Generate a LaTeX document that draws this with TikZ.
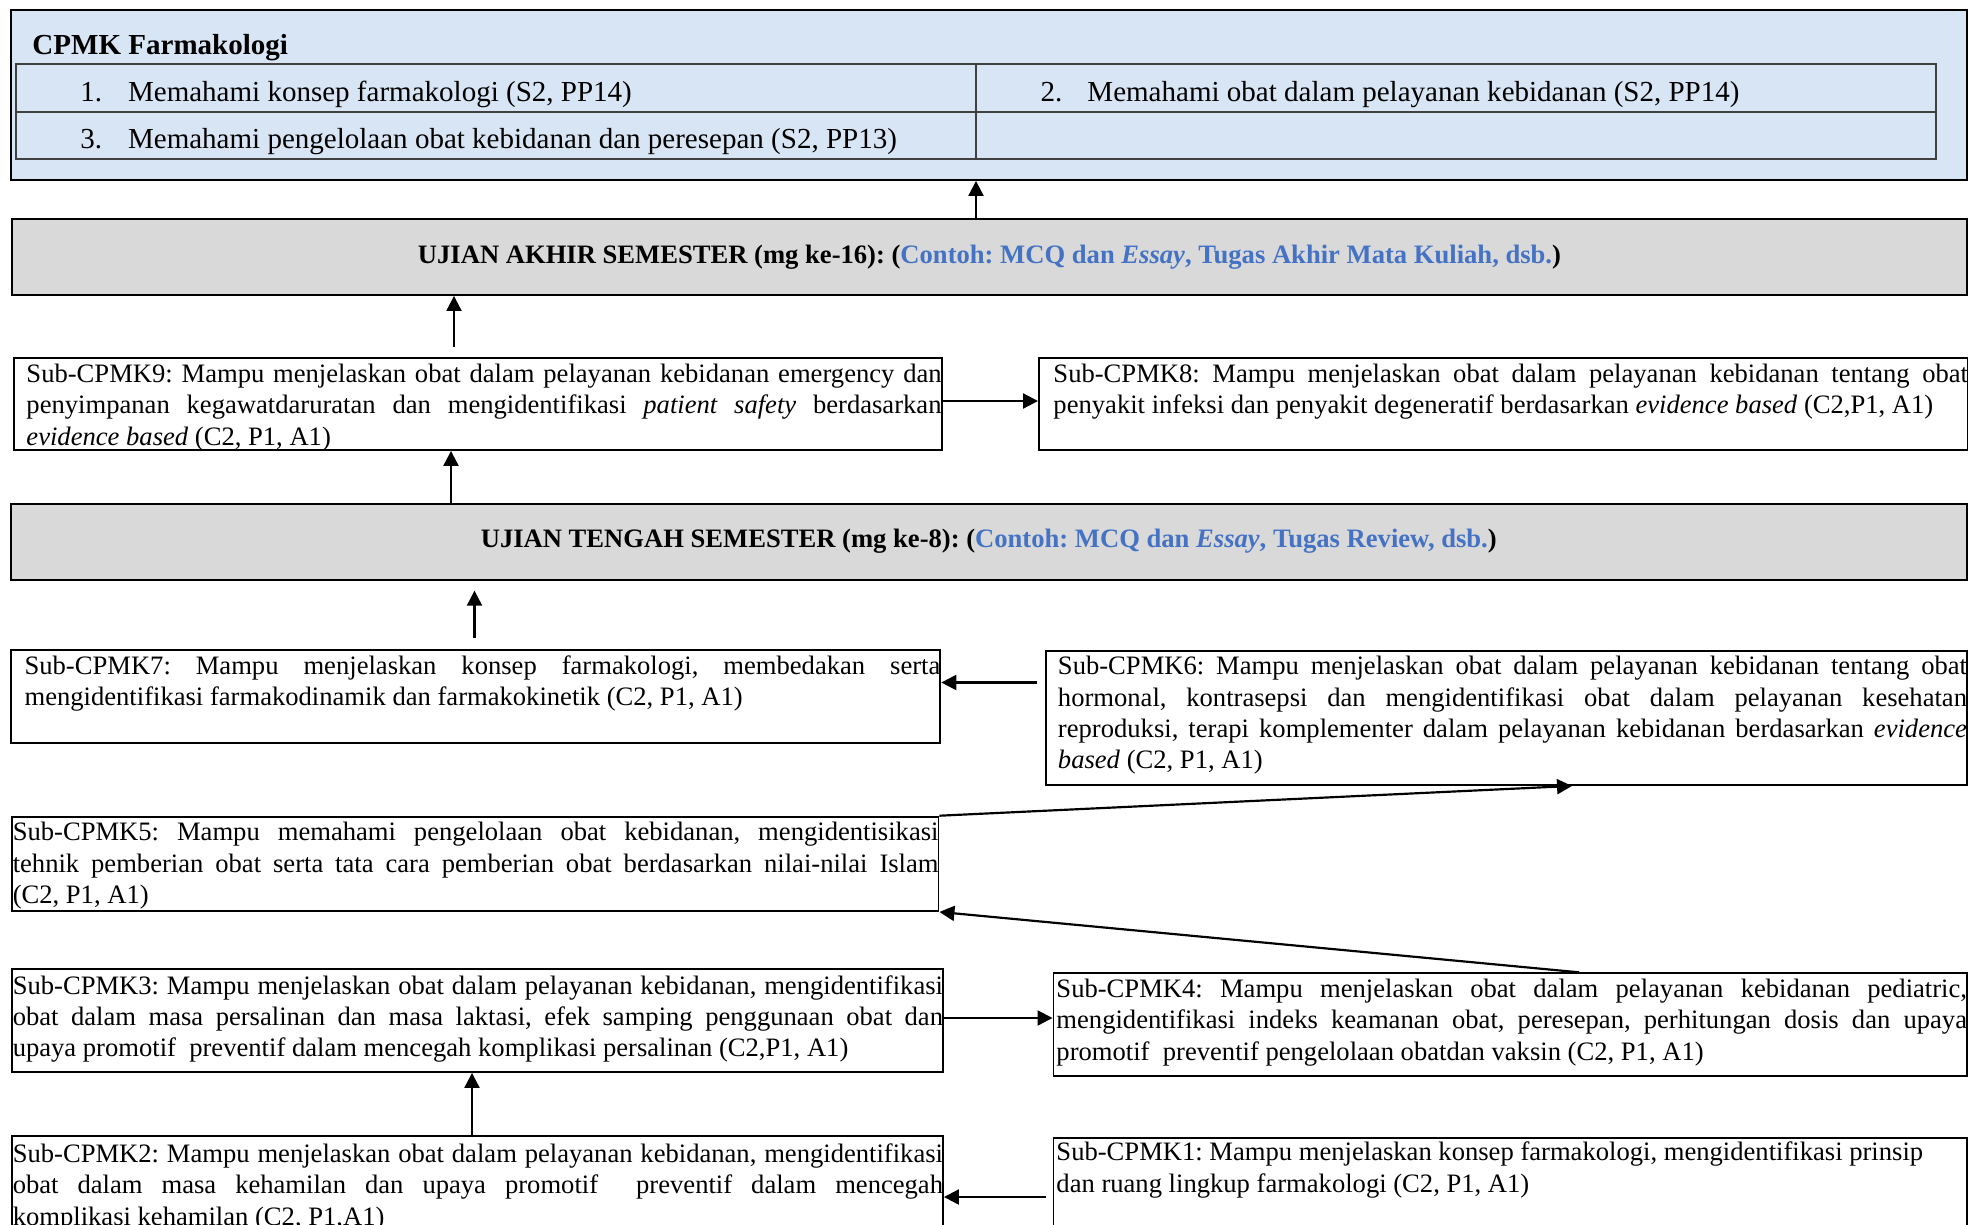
\documentclass[tikz,border=0pt]{standalone}
\usepackage{fontspec}
\setmainfont[Ligatures={TeX,NoCommon}]{Liberation Serif}
\usetikzlibrary{arrows.meta, positioning}

\newdimen\pxu
\pxu=0.4135pt

\definecolor{cpmkblue}{RGB}{216,229,244}
\definecolor{ujiangray}{RGB}{217,217,217}
\definecolor{contohblue}{RGB}{68,114,196}
\definecolor{gridgray}{RGB}{64,64,64}

\newcommand{\boxfont}{\fontsize{11}{12.9}\selectfont\frenchspacing\sloppy\hyphenpenalty=10000\relax}
\newcommand{\listfont}{\fontsize{12}{14}\selectfont}
\newcommand{\boxtext}[3]{\hspace*{#1\pxu}\parbox[t]{#2\pxu}{#3}}
\newcommand{\contoh}[1]{{\color{contohblue}#1}}

\tikzset{
	subbox/.style={draw=black, line width=0.8pt, fill=white, anchor=north west,
		inner sep=0pt, font=\boxfont}
}
\tikzset{
	ujianbox/.style={draw=black, line width=0.8pt, fill=ujiangray, anchor=north west,
		inner sep=0pt, minimum height=76\pxu, font=\boxfont\bfseries}
}
\tikzset{
	flowarrow/.style={line width=0.9pt, -{Triangle[length=6.2pt,width=6.2pt]}}
}
\tikzset{
	listitem/.style={anchor=base west, inner sep=0pt, font=\listfont}
}

\begin{document}
\begin{tikzpicture}[x=0.4135pt, y=-0.4135pt]

  \useasboundingbox (0,0) rectangle (1968,1224);
  \clip (0,0) rectangle (1968,1224);

  % CPMK table
  \node[draw=black, line width=0.8pt, fill=cpmkblue, anchor=north west, inner sep=0pt,
    minimum width=1956\pxu, minimum height=169.7\pxu] (cpmk) at (10,9.3) {};
  \node[listitem, font=\listfont\bfseries] (cpmktitle) at (32,55) {CPMK Farmakologi};
  \draw[gridgray, line width=0.55pt] (16,64) rectangle (1936,159)
    (16,112) -- (1936,112) (976,64) -- (976,159);
  \node[listitem] (item1) at (80,101.7) {\makebox[47.6\pxu][l]{1.}Memahami konsep farmakologi (S2, PP14)};
  \node[listitem] (item2) at (1040,101.7) {\makebox[47\pxu][l]{2.}Memahami obat dalam pelayanan kebidanan (S2, PP14)};
  \node[listitem] (item3) at (80,148.3) {\makebox[47.6\pxu][l]{3.}Memahami pengelolaan obat kebidanan dan peresepan (S2, PP13)};

  % ujian
  \node[ujianbox, minimum width=1955\pxu] (uas) at (11,218)
    {UJIAN AKHIR SEMESTER (mg ke-16): (\contoh{Contoh: MCQ dan \textit{Essay}, Tugas Akhir Mata Kuliah, dsb.})};
  \node[ujianbox, minimum width=1956.4\pxu] (uts) at (9.6,502.7)
    {UJIAN TENGAH SEMESTER (mg ke-8): (\contoh{Contoh: MCQ dan \textit{Essay}, Tugas Review, dsb.})};

  % sub-cpmk
  \node[subbox, text height=25\pxu, text depth=67.3\pxu] (sub9) at (12.8,356.7)
    {\boxtext{12.7}{915.1}{Sub-CPMK9: Mampu menjelaskan obat dalam pelayanan kebidanan emergency dan\linebreak
     penyimpanan kegawatdaruratan dan mengidentifikasi \textit{patient safety} berdasarkan\linebreak
     \textit{evidence based} (C2, P1, A1)}};
  \node[subbox, text height=24.7\pxu, text depth=67.3\pxu] (sub8) at (1038,357)
    {\boxtext{14.5}{914.5}{Sub-CPMK8: Mampu menjelaskan obat dalam pelayanan kebidanan tentang obat\linebreak
     penyakit infeksi dan penyakit degeneratif berdasarkan \textit{evidence based} (C2,P1, A1)}};
  \node[subbox, text height=24\pxu, text depth=68.4\pxu] (sub7) at (9.6,649.3)
    {\boxtext{14}{915.8}{Sub-CPMK7: Mampu menjelaskan konsep farmakologi, membedakan serta\linebreak
     mengidentifikasi farmakodinamik dan farmakokinetik (C2, P1, A1)}};
  \node[subbox, text height=24\pxu, text depth=110\pxu] (sub6) at (1045,650)
    {\boxtext{12}{909}{Sub-CPMK6: Mampu menjelaskan obat dalam pelayanan kebidanan tentang obat\linebreak
     hormonal, kontrasepsi dan mengidentifikasi obat dalam pelayanan kesehatan\linebreak
     reproduksi, terapi komplementer dalam pelayanan kebidanan berdasarkan \textit{evidence}\linebreak
     \textit{based} (C2, P1, A1)}};
  \node[subbox, text height=24.3\pxu, text depth=70\pxu] (sub5) at (10.8,815.7)
    {\boxtext{1}{925.7}{Sub-CPMK5: Mampu memahami pengelolaan obat kebidanan, mengidentisikasi\linebreak
     tehnik pemberian obat serta tata cara pemberian obat berdasarkan nilai-nilai Islam\linebreak
     (C2, P1, A1)}};
  \node[subbox, text height=24.4\pxu, text depth=78.3\pxu] (sub4) at (1052.5,972.3)
    {\boxtext{3}{910.5}{Sub-CPMK4: Mampu menjelaskan obat dalam pelayanan kebidanan pediatric,\linebreak
     mengidentifikasi indeks keamanan obat, peresepan, perhitungan dosis dan upaya\linebreak
     promotif~ preventif pengelolaan obatdan vaksin (C2, P1, A1)}};
  \node[subbox, text height=25.6\pxu, text depth=77.7\pxu] (sub3) at (10.8,967.7)
    {\boxtext{1}{930.2}{Sub-CPMK3: Mampu menjelaskan obat dalam pelayanan kebidanan, mengidentifikasi\linebreak
     obat dalam masa persalinan dan masa laktasi, efek samping penggunaan obat dan\linebreak
     upaya promotif~ preventif dalam mencegah komplikasi persalinan (C2,P1, A1)}};
  \node[subbox, text height=26.7\pxu, text depth=88.3\pxu] (sub2) at (10.8,1135)
    {\boxtext{1}{930.2}{Sub-CPMK2: Mampu menjelaskan obat dalam pelayanan kebidanan, mengidentifikasi\linebreak
     obat dalam masa kehamilan dan upaya promotif~ preventif dalam mencegah\linebreak
     komplikasi kehamilan (C2, P1,A1)}};
  \node[subbox, text height=23.3\pxu, text depth=90\pxu] (sub1) at (1052.5,1136.7)
    {\boxtext{3}{910.5}{Sub-CPMK1: Mampu menjelaskan konsep farmakologi, mengidentifikasi prinsip\\
     dan ruang lingkup farmakologi (C2, P1, A1)}};

  % arrows
  \draw[flowarrow] (uas.north -| 976,0) -- (cpmk.south -| 976,0);
  \draw[flowarrow, shorten <=10\pxu] (sub9.north -| 454,0) -- (uas.south -| 454,0);
  \draw[flowarrow] (sub9.east |- 0,401) -- (sub8.west |- 0,401);
  \draw[flowarrow] (uts.north -| 451,0) -- (sub9.south -| 451,0);
  \draw[flowarrow, shorten <=11\pxu, shorten >=10\pxu] (sub7.north -| 474.5,0) -- (uts.south -| 474.5,0);
  \draw[flowarrow, shorten <=8\pxu] (sub6.west |- 0,682.5) -- (sub7.east |- 0,682.5);
  \draw[flowarrow] (sub5.north east) -- (sub6.south -| 1572,0);
  \draw[flowarrow] (sub4.north -| 1579,0) -- (sub5.south east);
  \draw[flowarrow] (sub3.east |- 0,1018) -- (sub4.west |- 0,1018);
  \draw[flowarrow] (sub2.north -| 472,0) -- (sub3.south -| 472,0);
  \draw[flowarrow, shorten <=7\pxu] (sub1.west |- 0,1197) -- (sub2.east |- 0,1197);

\end{tikzpicture}
\end{document}
